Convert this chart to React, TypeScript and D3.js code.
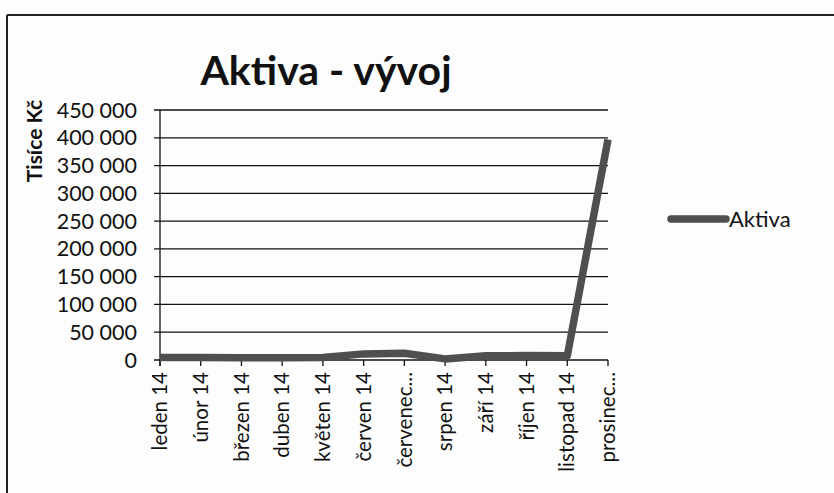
import * as d3 from "d3";

const months = [
  "leden 14", "únor 14", "březen 14", "duben 14", "květen 14", "červen 14",
  "červenec...", "srpen 14", "září 14", "říjen 14", "listopad 14", "prosinec...",
];
const aktiva = [4500, 4500, 4000, 4000, 4500, 11000, 12000, 2000, 7500, 8000, 7500, 397000];
const yTicks = [0, 50000, 100000, 150000, 200000, 250000, 300000, 350000, 400000, 450000];

const font = "Lato, 'Open Sans', sans-serif";

const App = () => {
  const width = 834;
  const height = 493;
  const left = 160, right = 608, top = 110, bottom = 360;

  const x = d3.scalePoint<string>().domain(months).range([left, right]);
  const y = d3.scaleLinear().domain([0, 450000]).range([bottom, top]);
  const fmt = (v: number) => d3.format(",")(v).replace(/,/g, " ");

  const line = d3.line<number>((d, i) => x(months[i])!, d => y(d));

  return (
    <svg width={width} height={height} style={{position: "absolute", left: 0, top: 0, background: "#fdfdfd"}}>
      {/* chart frame (only left and top edges visible in scan) */}
      <line x1={7} y1={15} x2={width} y2={15} stroke="#222" strokeWidth={2} />
      <line x1={7} y1={15} x2={7} y2={height} stroke="#222" strokeWidth={2} />

      <text x={326} y={85} textAnchor="middle" fontFamily={font} fontWeight="bold" fontSize={41} fill="#111">
        Aktiva - vývoj
      </text>

      <text transform={`translate(42,141) rotate(-90)`} textAnchor="middle" fontFamily={font} fontWeight="bold" fontSize={21} fill="#111">
        Tisíce Kč
      </text>

      {/* gridlines + y ticks */}
      {yTicks.map(t => (
        <g key={t}>
          <line x1={left - 6} x2={right} y1={y(t)} y2={y(t)} stroke="#111" strokeWidth={1.3} />
          <text x={137} y={y(t)} dy="0.35em" textAnchor="end" fontFamily={font} fontSize={21.5} fill="#111">
            {fmt(t)}
          </text>
        </g>
      ))}
      <line x1={left} x2={left} y1={top} y2={bottom + 6} stroke="#111" strokeWidth={1.3} />

      {/* x ticks + labels */}
      {months.map(m => (
        <g key={m}>
          <line x1={x(m)} x2={x(m)} y1={bottom} y2={bottom + 6} stroke="#111" strokeWidth={1.3} />
          <text transform={`translate(${x(m)},372) rotate(-90)`} dy="0.35em" textAnchor="end" fontFamily={font} fontSize={20.5} fill="#111">
            {m}
          </text>
        </g>
      ))}

      <path d={line(aktiva)!} fill="none" stroke="#4f4f4f" strokeWidth={7.5} strokeLinejoin="round" />

      {/* legend */}
      <line x1={671} x2={726} y1={219} y2={219} stroke="#4f4f4f" strokeWidth={7.5} strokeLinecap="round" />
      <text x={729} y={219} dy="0.35em" fontFamily={font} fontSize={22} fill="#111">Aktiva</text>
    </svg>
  );
};

export default App;
